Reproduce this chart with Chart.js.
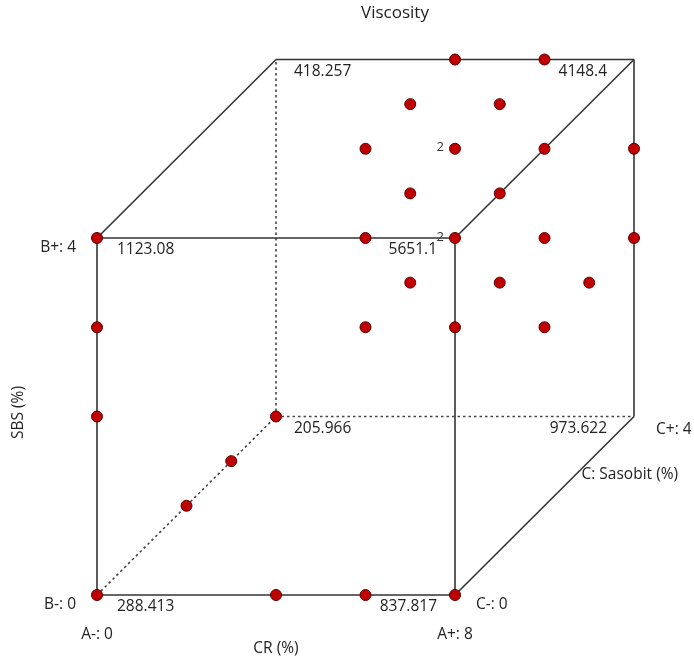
<!DOCTYPE html>
<html>
<head>
<meta charset="utf-8">
<script src="https://cdn.jsdelivr.net/npm/chart.js@4/dist/chart.umd.min.js"></script>
<style>
html,body{margin:0;padding:0;background:#fff;}
#wrap{width:694px;height:663px;}
</style>
</head>
<body>
<div id="wrap"><canvas id="c" width="694" height="663"></canvas></div>
<script>
// ---- Data (design space coordinates) ----
const chartTitle = 'Viscosity';
const factorA = {name:'CR (%)', low:0, high:8, lowLabel:'A-: 0', highLabel:'A+: 8'};
const factorB = {name:'SBS (%)', low:0, high:4, lowLabel:'B-: 0', highLabel:'B+: 4'};
const factorC = {name:'C: Sasobit (%)', low:0, high:4, lowLabel:'C-: 0', highLabel:'C+: 4'};

// design points
const pointA = [0,4,6,8, 0,0,0, 0,0,0, 6,8,8,6,8, 4,6, 4,6, 4,6,8,8, 6,8, 6,8,8, 8,8];
const pointB = [0,0,0,0, 0,0,0, 2,3,4, 4,4,3,3,2, 4,4, 4,4, 4,4,4,3, 4,4, 3,3,2, 3,2];
const pointC = [0,0,0,0, 2,3,4, 0,0,0, 0,0,0,0,2, 4,4, 3,3, 2,2,2,4, 1,1, 1,1,3, 2,4];
const pointRep = [1,1,1,1, 1,1,1, 1,1,1, 1,2,1,1,1, 1,1, 1,1, 1,2,1,1, 1,1, 1,1,1, 1,1];

// corner predictions
const cornerA = [0,8,0,8,0,8,0,8];
const cornerB = [0,0,4,4,0,0,4,4];
const cornerC = [0,0,0,0,4,4,4,4];
const cornerValue = ['288.413','837.817','1123.08','5651.1','205.966','973.622','418.257','4148.4'];

// ---- projection (oblique) ----
const depthX = 1.0, depthY = 0.5;
function proj(a,b,c){ return {x: a + c*depthX, y: b + c*depthY}; }

// edges of cube
const edgeSets = [];
const lo = [factorA.low, factorB.low, factorC.low], hi = [factorA.high, factorB.high, factorC.high];
for (let i=0;i<8;i++){
  const ci = [(i&1)?hi[0]:lo[0], (i&2)?hi[1]:lo[1], (i&4)?hi[2]:lo[2]];
  for (let d=0; d<3; d++){
    if (i & (1<<d)) continue;
    const j = i | (1<<d);
    const cj = [(j&1)?hi[0]:lo[0], (j&2)?hi[1]:lo[1], (j&4)?hi[2]:lo[2]];
    const hidden = (i===4 || j===4); // edges touching A-,B-,C+ corner
    edgeSets.push({
      type:'scatter', showLine:true, order:2,
      data:[proj(...ci), proj(...cj)],
      borderColor: hidden ? '#444' : '#333',
      borderWidth: 1.6,
      borderDash: hidden ? [2.5,3] : [],
      pointRadius:0, pointHoverRadius:0, fill:false
    });
  }
}

const pts = pointA.map((a,i)=>proj(a,pointB[i],pointC[i]));

// scale mapping
const pxA = 44.75, pxB = 89.25, ox = 97, oy = 595, W = 694, H = 663;

const labelPlugin = {
  id:'labels',
  afterDatasetsDraw(chart){
    const ctx = chart.ctx, xs = chart.scales.x, ys = chart.scales.y;
    const P = (a,b,c)=>{ const p = proj(a,b,c); return {x: xs.getPixelForValue(p.x), y: ys.getPixelForValue(p.y)}; };
    ctx.save();
    ctx.fillStyle = '#222';
    ctx.textBaseline = 'middle';
    const F = '15.5px "Open Sans", "Segoe UI", sans-serif';
    ctx.font = F;
    // corner values
    for (let i=0;i<cornerA.length;i++){
      const p = P(cornerA[i], cornerB[i], cornerC[i]);
      const back = cornerC[i] === factorC.high;
      if (cornerA[i] === factorA.low){
        ctx.textAlign = 'left';
        ctx.fillText(cornerValue[i], p.x + (back?18:20), p.y + 12);
      } else {
        ctx.textAlign = 'right';
        ctx.fillText(cornerValue[i], p.x - (back?27:18), p.y + 12);
      }
    }
    // replicate counts
    ctx.font = '13px "Open Sans", sans-serif';
    ctx.fillStyle = '#333';
    ctx.textAlign = 'right';
    for (let i=0;i<pointA.length;i++){
      if (pointRep[i] > 1){
        const p = P(pointA[i], pointB[i], pointC[i]);
        ctx.fillText(String(pointRep[i]), p.x - 11, p.y - 1);
      }
    }
    // factor level labels
    ctx.font = F; ctx.fillStyle = '#222';
    let p;
    p = P(factorA.low, factorB.high, factorC.low); ctx.textAlign='right'; ctx.fillText(factorB.highLabel, p.x - 21, p.y + 10);
    p = P(factorA.low, factorB.low, factorC.low); ctx.textAlign='right'; ctx.fillText(factorB.lowLabel, p.x - 21, p.y + 10);
    p = P(factorA.low, factorB.low, factorC.low); ctx.textAlign='center'; ctx.fillText(factorA.lowLabel, p.x, p.y + 40);
    p = P(factorA.high, factorB.low, factorC.low); ctx.textAlign='center'; ctx.fillText(factorA.highLabel, p.x, p.y + 40);
    p = P(factorA.high, factorB.low, factorC.low); ctx.textAlign='left'; ctx.fillText(factorC.lowLabel, p.x + 21, p.y + 10);
    p = P(factorA.high, factorB.low, factorC.high); ctx.textAlign='left'; ctx.fillText(factorC.highLabel, p.x + 22, p.y + 13);
    // axis names
    p = P((factorA.low+factorA.high)/2, factorB.low, factorC.low); ctx.textAlign='center'; ctx.fillText(factorA.name, p.x, p.y + 54);
    p = P(factorA.high, factorB.low, (factorC.low+factorC.high)/2); ctx.textAlign='left'; ctx.fillText(factorC.name, p.x + 37, p.y - 31);
    p = P(factorA.low, (factorB.low+factorB.high)/2, factorC.low);
    ctx.save(); ctx.translate(19, p.y - 4); ctx.rotate(-Math.PI/2); ctx.textAlign='center'; ctx.fillText(factorB.name, 0, 0); ctx.restore();
    // title
    ctx.textAlign='center'; ctx.font = '17px "Open Sans", sans-serif';
    ctx.fillText(chartTitle, 395, 13);
    ctx.restore();
  }
};

new Chart(document.getElementById('c'), {
  type:'scatter',
  data:{
    datasets:[
      {
        type:'scatter', order:0, data:pts,
        pointRadius:5.5, pointHoverRadius:5.5,
        backgroundColor:'#c00000', borderColor:'#5a0000', borderWidth:1
      },
      ...edgeSets
    ]
  },
  options:{
    responsive:false, animation:false, maintainAspectRatio:false,
    layout:{padding:0, autoPadding:false},
    events:[],
    plugins:{legend:{display:false}, tooltip:{enabled:false}, title:{display:false}},
    scales:{
      x:{type:'linear', display:false, min:-ox/pxA, max:(W-ox)/pxA},
      y:{type:'linear', display:false, min:-(H-oy)/pxB, max:oy/pxB}
    }
  },
  plugins:[labelPlugin]
});
</script>
</body>
</html>
